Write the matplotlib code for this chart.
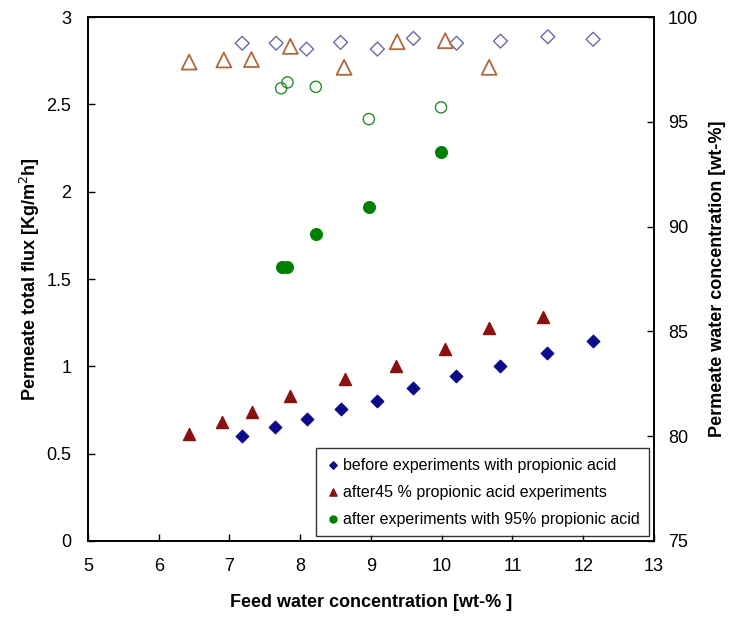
import matplotlib
matplotlib.use("Agg")
import matplotlib.pyplot as plt

plt.rcParams['font.family'] = ['Liberation Sans', 'DejaVu Sans']

# flux data (left axis)
x_before = [7.17, 7.65, 8.09, 8.57, 9.08, 9.59, 10.2, 10.82, 11.49, 12.14]
flux_before = [0.60, 0.65, 0.70, 0.755, 0.80, 0.875, 0.945, 1.00, 1.075, 1.145]

x_after45 = [6.43, 6.9, 7.32, 7.86, 8.63, 9.36, 10.04, 10.67, 11.43]
flux_after45 = [0.61, 0.68, 0.74, 0.83, 0.93, 1.00, 1.10, 1.22, 1.28]

x_after95 = [7.74, 7.82, 8.22, 8.97, 9.99]
flux_after95 = [1.57, 1.57, 1.76, 1.91, 2.23]

# permeate water concentration (right axis)
xc_before = [7.18, 7.66, 8.09, 8.57, 9.09, 9.60, 10.21, 10.83, 11.50, 12.14]
conc_before = [98.75, 98.75, 98.47, 98.79, 98.47, 98.98, 98.75, 98.85, 99.06, 98.94]

xc_after45 = [6.43, 6.92, 7.31, 7.86, 8.62, 9.37, 10.05, 10.67]
conc_after45 = [97.85, 97.95, 97.97, 98.6, 97.6, 98.82, 98.87, 97.6]

xc_after95 = [7.73, 7.82, 8.22, 8.97, 9.99]
conc_after95 = [96.6, 96.88, 96.67, 95.13, 95.69]

labels = ["before experiments with propionic acid",
          "after45 % propionic acid experiments",
          "after experiments with 95% propionic acid"]

fig = plt.figure(figsize=(7.32, 6.17), dpi=100)
ax = fig.add_axes([0.1202, 0.1232, 0.7732, 0.8492])
ax2 = ax.twinx()

ax.scatter(x_before, flux_before, marker='D', s=40, color='#0c0c8a', label=labels[0], zorder=3)
ax.scatter(x_after45, flux_after45, marker='^', s=75, color='#8b1010', label=labels[1], zorder=3)
ax.scatter(x_after95, flux_after95, marker='o', s=70, color='#008000', label=labels[2], zorder=3)

ax2.scatter(xc_before, conc_before, marker='D', s=50, facecolors='none', edgecolors='#6a6aa8', linewidths=1.0)
ax2.scatter(xc_after45, conc_after45, marker='^', s=115, facecolors='none', edgecolors='#b0683a', linewidths=1.3)
ax2.scatter(xc_after95, conc_after95, marker='o', s=65, facecolors='none', edgecolors='#2a8a2a', linewidths=1.0)

ax.set_xlim(5, 13)
ax.set_ylim(0, 3)
ax2.set_ylim(75, 100)
ax.set_xticks(range(5, 14))
ax.set_yticks([0, 0.5, 1, 1.5, 2, 2.5, 3])
ax.set_yticklabels(['0', '0.5', '1', '1.5', '2', '2.5', '3'])
ax2.set_yticks([75, 80, 85, 90, 95, 100])

for a in (ax, ax2):
    a.tick_params(direction='in', length=5, width=1, labelsize=13)
    for s in a.spines.values():
        s.set_linewidth(1.2)
ax.tick_params(axis='x', pad=12)
ax.tick_params(axis='y', pad=12)
ax2.tick_params(axis='y', pad=10)

ax.set_xlabel("Feed water concentration [wt-% ]", fontsize=13, fontweight='bold', labelpad=14)
ax.set_ylabel("Permeate total flux [Kg/m$^2$h]", fontsize=13, fontweight='bold', labelpad=3)
ax2.set_ylabel("Permeate water concentration [wt-%]", fontsize=13, fontweight='bold', labelpad=8)

leg = ax.legend(loc='lower right', fontsize=11.5, frameon=True, fancybox=False,
                edgecolor='black', handletextpad=0.1, handlelength=1.0,
                markerscale=0.6, borderpad=0.6, labelspacing=0.75, borderaxespad=0.3)
leg.get_frame().set_linewidth(1.0)
ax2.set_zorder(ax.get_zorder() - 1)
ax.patch.set_visible(False)

fig.savefig("out.png", dpi=100)
